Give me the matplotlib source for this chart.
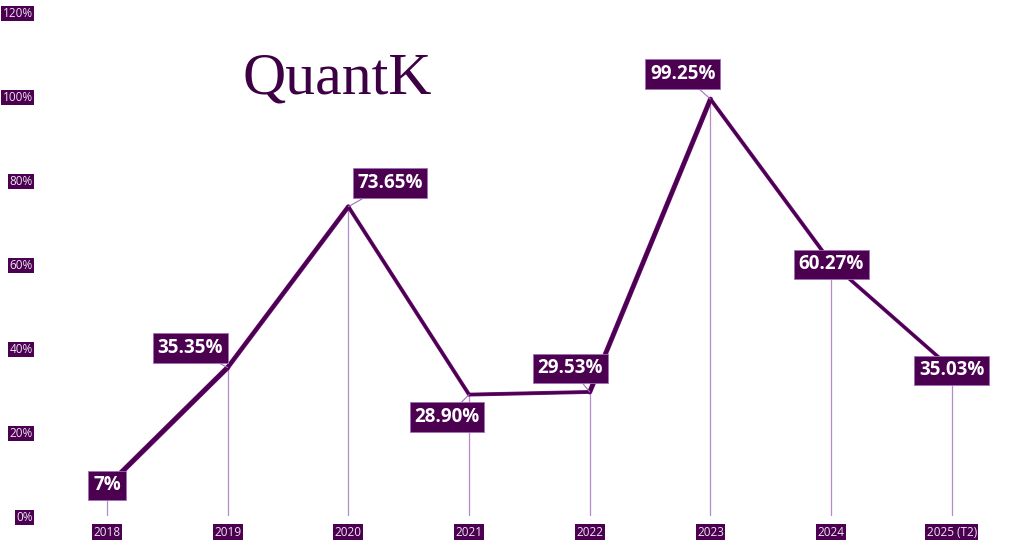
import numpy as np
import matplotlib.pyplot as plt
from matplotlib.collections import LineCollection

years = ["2018", "2019", "2020", "2021", "2022", "2023", "2024", "2025 (T2)"]
values = [7.0, 35.35, 73.65, 28.90, 29.53, 99.25, 60.27, 35.03]
labels = ["7%", "35.35%", "73.65%", "28.90%", "29.53%", "99.25%", "60.27%", "35.03%"]
# label box offsets from the point, in points
offsets = [(0, 1), (-27, 14), (30, 17), (-16, -16), (-14, 17), (-20, 18), (0, -1), (0, -1)]
seg_widths = [3.0, 2.6, 2.0, 2.0, 2.8, 2.0, 1.9]

dark = "#4b0050"
light = "#b48cc8"

fig = plt.figure(figsize=(10.24, 5.47), dpi=100)
ax = fig.add_axes([0.0455, 0.0567, 0.943, 0.9214])

x = np.arange(len(years))
y = np.array(values)

# drop lines
ax.vlines(x, 0, y, color=light, lw=0.9, zorder=1)

# main line, thicker on some segments
pts = np.column_stack([x, y])
segs = np.stack([pts[:-1], pts[1:]], axis=1)
under = LineCollection(segs, linewidths=[w + 0.8 for w in seg_widths], colors="#7a1a88",
                       capstyle="round", joinstyle="round", zorder=2)
lc = LineCollection(segs, linewidths=seg_widths, colors=dark,
                    capstyle="round", joinstyle="round", zorder=3)
ax.add_collection(under)
ax.add_collection(lc)

for xi, yi, lab, (dx, dy) in zip(x, y, labels, offsets):
    ax.annotate(lab, (xi, yi), xytext=(dx, dy), textcoords="offset points",
                ha="center", va="center", fontsize=13.5, fontweight="bold",
                color="white", family="Open Sans", zorder=5,
                bbox=dict(boxstyle="square,pad=0.25", fc=dark, ec="#a070b8", lw=0.6),
                arrowprops=dict(arrowstyle="-", color="#a070b8", lw=0.8,
                                shrinkA=0, shrinkB=0))

ax.set_xlim(-0.5, len(years) - 0.5)
ax.set_ylim(0, 120)
ax.set_xticks(x)
ax.set_xticklabels(years)
ax.set_yticks(np.arange(0, 121, 20))
ax.set_yticklabels([f"{v}%" for v in range(0, 121, 20)])
ax.tick_params(length=0, labelsize=8.5, labelcolor="#efe4f4")
ax.tick_params(axis="x", pad=7)
ax.tick_params(axis="y", pad=10)
for t in ax.get_xticklabels() + ax.get_yticklabels():
    t.set_family("Open Sans")
    t.set_bbox(dict(boxstyle="square,pad=0.12", fc=dark, ec="none"))
for s in ax.spines.values():
    s.set_visible(False)

fig.text(0.329, 0.855, "QuantK", fontsize=43, family="Liberation Serif",
         color="#3d0044", ha="center", va="center")

fig.savefig("out.png", dpi=100, facecolor="white")
